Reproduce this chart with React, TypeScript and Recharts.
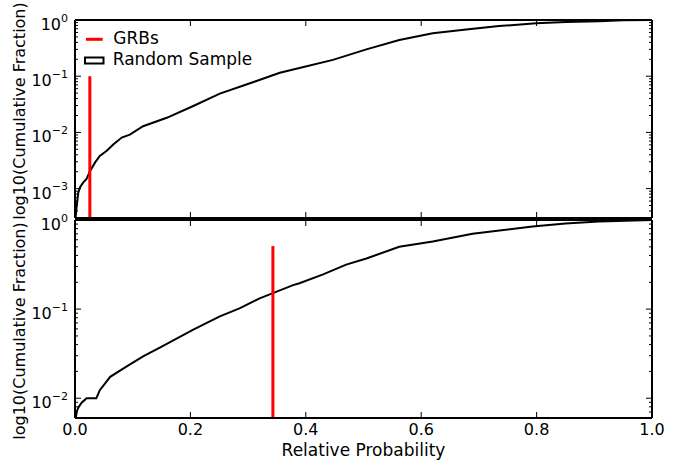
import React from 'react';
import { LineChart, Line, XAxis, YAxis } from 'recharts';

const FONT = "'DejaVu Sans', 'Bitstream Vera Sans', sans-serif";

// x axis (shared)
const xTicks = [0, 0.2, 0.4, 0.6, 0.8, 1.0];
const xTickLabels = ['0.0', '0.2', '0.4', '0.6', '0.8', '1.0'];

// y axes (log)
const topMajorExps = [0, -1, -2, -3];
const bottomMajorExps = [0, -1, -2];
const topDomain = [0.0003, 1];
const bottomDomain = [0.006, 1];

// Random sample cumulative fraction, top panel
const topProb = [0.001, 0.003, 0.0057, 0.009, 0.0144, 0.02, 0.0254, 0.0346, 0.043, 0.055, 0.0663, 0.081, 0.095, 0.118, 0.159, 0.205, 0.251, 0.297, 0.355, 0.389, 0.447, 0.505, 0.562, 0.62, 0.678, 0.735, 0.799, 0.851, 0.908, 0.95, 1.0];
const topFrac = [0.0003, 0.0005, 0.00085, 0.00107, 0.00129, 0.00148, 0.002, 0.0029, 0.0038, 0.0047, 0.0061, 0.0081, 0.0091, 0.0129, 0.0182, 0.0295, 0.049, 0.071, 0.115, 0.14, 0.195, 0.3, 0.44, 0.58, 0.68, 0.78, 0.873, 0.923, 0.95, 0.985, 1.0];

// Random sample cumulative fraction, bottom panel
const bottomProb = [0.0015, 0.003, 0.006, 0.0115, 0.02, 0.037, 0.043, 0.061, 0.089, 0.118, 0.147, 0.205, 0.251, 0.285, 0.32, 0.343, 0.378, 0.389, 0.43, 0.47, 0.505, 0.562, 0.62, 0.689, 0.793, 0.85, 0.908, 1.0];
const bottomFrac = [0.006, 0.0071, 0.0079, 0.0089, 0.01, 0.01, 0.0123, 0.0174, 0.0226, 0.0295, 0.037, 0.059, 0.083, 0.102, 0.132, 0.151, 0.186, 0.195, 0.245, 0.316, 0.37, 0.5, 0.575, 0.7, 0.847, 0.912, 0.964, 1.0];

// GRB markers
const grbTopProb = [0.0257, 0.0257];
const grbTopFrac = [0.1, 0.0003];
const grbBottomProb = [0.343, 0.343];
const grbBottomFrac = [0.51, 0.006];

const legendLabels = ['GRBs', 'Random Sample'];

const toSeries = (p: number[], f: number[]) => p.map((x, i) => ({ prob: x, frac: f[i] }));
const topSeries = toSeries(topProb, topFrac);
const bottomSeries = toSeries(bottomProb, bottomFrac);
const grbTop = toSeries(grbTopProb, grbTopFrac);
const grbBottom = toSeries(grbBottomProb, grbBottomFrac);

const logTicks = (domain: number[]) => {
  const out: number[] = [];
  const lo = Math.floor(Math.log10(domain[0]));
  for (let d = lo; d <= 0; d++) {
    for (let k = 1; k <= 9; k++) {
      const v = k * Math.pow(10, d);
      if (v >= domain[0] - 1e-12 && v <= domain[1] + 1e-12) out.push(v);
    }
  }
  return out;
};

const isMajorVal = (v: number, majors: number[]) => majors.some((m) => Math.abs(Math.log10(v) - m) < 1e-6);

const makeYTick = (side: 'left' | 'right', majors: number[], showLabel: boolean) => (props: any) => {
  const { x, y, payload } = props;
  const v = payload.value;
  const major = isMajorVal(v, majors);
  const len = major ? 6 : 3;
  const dir = side === 'left' ? 1 : -1;
  const e = Math.round(Math.log10(v));
  return (
    <g>
      <line x1={x} x2={x + dir * len} y1={y} y2={y} stroke="#000" strokeWidth={1} />
      {showLabel && major && (
        <text x={x - 7} y={y + 10} textAnchor="end" fontFamily={FONT} fontSize={16} fill="#000">
          10
          <tspan dy={-8.3} fontSize={11}>{e === 0 ? '0' : '\u2212' + Math.abs(e)}</tspan>
        </text>
      )}
    </g>
  );
};

const makeXTick = (side: 'top' | 'bottom', showLabel: boolean) => (props: any) => {
  const { x, y, payload, index } = props;
  const dir = side === 'bottom' ? -1 : 1;
  const i = xTicks.indexOf(payload.value);
  return (
    <g>
      <line x1={x} x2={x} y1={y} y2={y + dir * 6} stroke="#000" strokeWidth={1} />
      {showLabel && (
        <text x={x} y={y + 17} textAnchor="middle" fontFamily={FONT} fontSize={16} fill="#000">
          {xTickLabels[i >= 0 ? i : index]}
        </text>
      )}
    </g>
  );
};

const YLabel = (props: any) => {
  const vb = props.viewBox || { x: 74, y: 0, width: 1, height: 0 };
  const cx = vb.x + vb.width - 50;
  const cy = vb.y + vb.height / 2 + (props.shift || 0);
  return (
    <text x={cx} y={cy} transform={`rotate(-90 ${cx} ${cy})`} textAnchor="middle" fontFamily={FONT} fontSize={16} fill="#000">
      log10(Cumulative Fraction)
    </text>
  );
};

const XLabel = (props: any) => {
  const vb = props.viewBox || { x: 75, y: 418, width: 577, height: 1 };
  return (
    <text x={vb.x + vb.width / 2} y={vb.y + 37.5} textAnchor="middle" fontFamily={FONT} fontSize={17} fill="#000">
      Relative Probability
    </text>
  );
};

const LegendBox = () => (
  <svg width={200} height={50} style={{ display: 'block', overflow: 'visible' }}>
    <line x1={6} x2={22.7} y1={14.3} y2={14.3} stroke="#ff0000" strokeWidth={3} />
    <text x={33.3} y={18.5} fontFamily={FONT} fontSize={17} fill="#000">{legendLabels[0]}</text>
    <rect x={5} y={32.5} width={18.5} height={6} fill="none" stroke="#000" strokeWidth={2} />
    <text x={32.7} y={40} fontFamily={FONT} fontSize={17} fill="#000">{legendLabels[1]}</text>
  </svg>
);

const axisLine = { stroke: '#000', strokeWidth: 2 };

function Panel(props: {
  top: number;
  bottom: number;
  domain: number[];
  majors: number[];
  series: any[];
  grb: any[];
  showX: boolean;
  labelShift: number;
}) {
  const ticks = logTicks(props.domain);
  return (
    <LineChart width={685} height={461} margin={{ top: props.top - 1, right: 32, bottom: 461 - props.bottom - 1, left: 74 }}>
      <XAxis xAxisId="b" dataKey="prob" type="number" domain={[0, 1]} ticks={xTicks} interval={0} height={1}
        axisLine={axisLine} tickLine={false} tickSize={0} tickMargin={0} tick={makeXTick('bottom', props.showX)}
        allowDataOverflow label={props.showX ? <XLabel /> : undefined} />
      <XAxis xAxisId="t" orientation="top" dataKey="prob" type="number" domain={[0, 1]} ticks={xTicks} interval={0} height={1}
        axisLine={axisLine} tickLine={false} tickSize={0} tickMargin={0} tick={makeXTick('top', false)} allowDataOverflow />
      <YAxis yAxisId="l" type="number" scale="log" domain={props.domain} ticks={ticks} interval={0} width={1}
        axisLine={axisLine} tickLine={false} tickSize={0} tickMargin={0} tick={makeYTick('left', props.majors, true)}
        allowDataOverflow label={<YLabel shift={props.labelShift} />} />
      <YAxis yAxisId="r" orientation="right" type="number" scale="log" domain={props.domain} ticks={ticks} interval={0} width={1}
        axisLine={axisLine} tickLine={false} tickSize={0} tickMargin={0} tick={makeYTick('right', props.majors, false)} allowDataOverflow />
      <Line xAxisId="b" yAxisId="l" data={props.series} dataKey="frac" name={legendLabels[1]} type="linear" stroke="#000"
        strokeWidth={2} dot={false} activeDot={false} isAnimationActive={false} />
      <Line xAxisId="b" yAxisId="l" data={props.grb} dataKey="frac" name={legendLabels[0]} type="linear" stroke="#ff0000"
        strokeWidth={3} dot={false} activeDot={false} isAnimationActive={false} />
    </LineChart>
  );
}

export default function App() {
  return (
    <div style={{ position: 'absolute', left: 0, top: 0, width: 685, height: 461, background: '#fff' }}>
      <div style={{ position: 'absolute', left: 0, top: 0 }}>
        <Panel top={20} bottom={218} domain={topDomain} majors={topMajorExps} series={topSeries} grb={grbTop} showX={false} labelShift={-8} />
      </div>
      <div style={{ position: 'absolute', left: 0, top: 0 }}>
        <Panel top={220} bottom={418} domain={bottomDomain} majors={bottomMajorExps} series={bottomSeries} grb={grbBottom} showX={true} labelShift={12} />
      </div>
      <div style={{ position: 'absolute', left: 80, top: 25 }}>
        <LegendBox />
      </div>
    </div>
  );
}
